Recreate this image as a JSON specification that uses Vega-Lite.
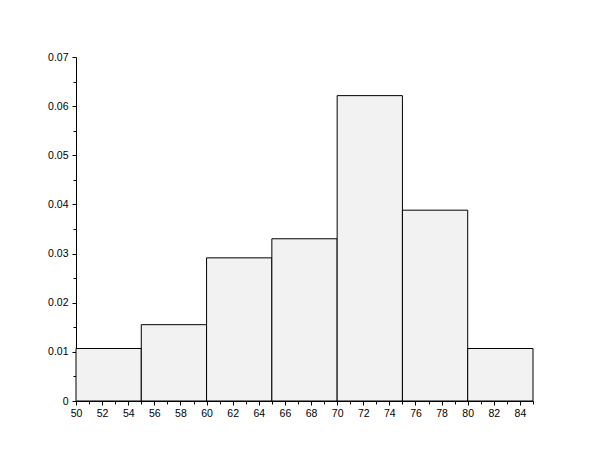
{
  "$schema": "https://vega.github.io/schema/vega-lite/v6.json",
  "autosize": "none",
  "padding": {"left": 76, "top": 57, "right": 77, "bottom": 59},
  "width": 457,
  "height": 344,
  "background": "white",
  "config": {
    "view": {"stroke": null},
    "axis": {
      "domainColor": "black",
      "tickColor": "black",
      "labelColor": "black",
      "labelFont": "Liberation Sans",
      "labelFontSize": 10.5,
      "grid": false,
      "title": null
    }
  },
  "data": {
    "values": [
      {"lo": 50, "hi": 55, "density": 0.01068},
      {"lo": 55, "hi": 60, "density": 0.01553},
      {"lo": 60, "hi": 65, "density": 0.02913},
      {"lo": 65, "hi": 70, "density": 0.03301},
      {"lo": 70, "hi": 75, "density": 0.06214},
      {"lo": 75, "hi": 80, "density": 0.03883},
      {"lo": 80, "hi": 85, "density": 0.01068}
    ]
  },
  "resolve": {"scale": {"x": "independent", "y": "independent"}, "axis": {"x": "independent", "y": "independent"}},
  "layer": [
    {
      "mark": {"type": "point", "opacity": 0},
      "encoding": {
        "x": {
          "field": "lo", "type": "quantitative",
          "scale": {"domain": [50, 85], "nice": false, "zero": false},
          "axis": {"orient": "bottom", "values": [51,53,55,57,59,61,63,65,67,69,71,73,75,77,79,81,83,85], "tickSize": 3, "labels": false, "domain": false}
        },
        "y": {
          "field": "density", "type": "quantitative",
          "scale": {"domain": [0, 0.07], "nice": false},
          "axis": {"orient": "left", "values": [0.005,0.015,0.025,0.035,0.045,0.055,0.065], "tickSize": 3, "labels": false, "domain": false}
        }
      }
    },
    {
      "mark": {"type": "rect", "fill": "#f2f2f2", "stroke": "black", "strokeWidth": 1},
      "encoding": {
        "x": {
          "field": "lo", "type": "quantitative",
          "scale": {"domain": [50, 85], "nice": false, "zero": false},
          "axis": {"orient": "bottom", "values": [50,52,54,56,58,60,62,64,66,68,70,72,74,76,78,80,82,84], "tickSize": 4, "labelPadding": 3, "labelFlush": false, "labelOverlap": false}
        },
        "x2": {"field": "hi"},
        "y": {
          "field": "density", "type": "quantitative",
          "scale": {"domain": [0, 0.07], "nice": false},
          "axis": {"orient": "left", "values": [0,0.01,0.02,0.03,0.04,0.05,0.06,0.07], "tickSize": 4, "labelPadding": 4, "labelExpr": "datum.value == 0 ? '0' : format(datum.value, '.2f')", "labelFlush": false, "labelOverlap": false}
        },
        "y2": {"datum": 0}
      }
    }
  ]
}
